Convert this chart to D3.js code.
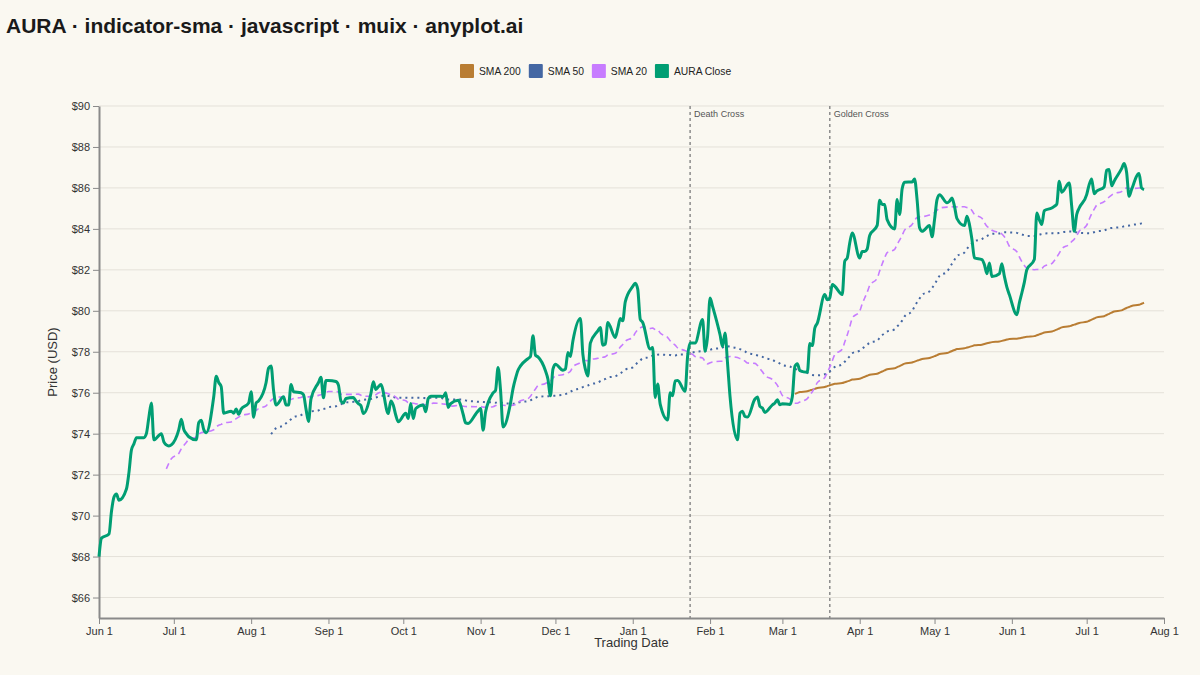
<!DOCTYPE html>
<html>
<head>
<meta charset="utf-8">
<script src="https://cdn.jsdelivr.net/npm/d3@7"></script>
<style>
    html, body { margin: 0; padding: 0; background: #faf8f1; }
    svg { display: block; font-family: "Liberation Sans", Arial, sans-serif; }
</style>
</head>
<body>
<svg id="chart" width="1200" height="675"></svg>
<script>
/**
 * First and last trading day of the series (weekdays only)
 */
const [startDate, endDate] = ['2023-06-01', '2024-07-24'];

/**
 * AURA closing prices, one per trading day, grouped by month
 */
const closeJun23 = [68.0, 68.9, 69.1, 70.2, 70.9, 71.05, 70.75, 71.3, 72.1, 73.2, 73.5, 73.8, 73.8, 74.0, 74.8, 75.5, 73.7, 74.0, 73.6, 73.45, 73.4, 73.45];
const closeJul23 = [74.2, 74.7, 74.2, 74.0, 73.85, 73.7, 74.55, 74.65, 74.2, 74.05, 75.8, 76.8, 76.5, 76.3, 75.0, 75.1, 75.0, 75.2, 74.95, 75.2, 75.5];
const closeAug23 = [76.05, 74.8, 75.5, 75.6, 76.5, 77.2, 77.3, 76.1, 75.4, 75.8, 75.4, 75.4, 76.4, 76.05, 76.0, 75.9, 75.2, 74.6, 75.7, 76.5, 76.75, 75.75, 76.6];
const closeSep23 = [76.6, 76.55, 76.37, 75.6, 75.5, 75.72, 75.77, 75.6, 75.47, 75.37, 74.98, 75.95, 76.53, 76.16, 76.29, 76.4, 74.98, 75.6, 75.39, 74.9, 74.58];
const closeOct23 = [75.0, 74.74, 75.47, 74.74, 75.23, 75.4, 75.07, 75.72, 75.83, 75.83, 75.83, 75.8, 76.0, 75.28, 75.47, 75.63, 75.39, 74.95, 74.53, 74.5, 74.95, 75.11];
const closeNov23 = [75.23, 74.17, 75.07, 75.99, 76.12, 77.23, 76.12, 74.33, 75.5, 76.2, 76.7, 77.1, 77.31, 77.67, 77.77, 78.78, 77.83, 77.75, 77.07, 76.66, 75.85, 77.15];
const closeDec23 = [77.39, 77.1, 77.15, 77.96, 77.77, 78.53, 79.63, 77.88, 77.15, 76.82, 78.42, 79.02, 79.19, 78.32, 78.37, 79.43, 78.7, 79.14, 79.63, 79.51, 80.44];
const closeJan24 = [81.19, 81.35, 81.06, 79.59, 79.43, 78.13, 78.21, 75.77, 76.42, 75.44, 74.67, 76.0, 75.85, 76.58, 76.6, 76.07, 77.78, 78.43, 78.43, 78.43, 79.57, 78.02, 78.75];
const closeFeb24 = [80.63, 80.22, 78.83, 78.26, 78.92, 77.45, 75.82, 73.7, 75.0, 75.09, 74.84, 74.81, 75.69, 75.79, 75.33, 75.25, 75.04, 75.41, 75.5, 75.66, 75.41];
const closeMar24 = [75.46, 75.43, 75.82, 77.29, 77.42, 77.08, 77.0, 78.4, 78.3, 79.16, 79.4, 80.79, 80.54, 80.63, 81.28, 81.2, 80.79, 82.42, 82.58, 83.31, 83.8];
const closeApr24 = [82.58, 82.9, 82.9, 83.02, 83.68, 84.17, 85.4, 85.19, 85.19, 84.45, 84.0, 85.43, 84.7, 85.95, 86.28, 86.29, 86.44, 85.43, 84.05, 83.88, 84.16, 83.61];
const closeMay24 = [84.45, 85.43, 85.67, 85.27, 85.35, 85.51, 85.1, 84.5, 84.16, 84.62, 84.21, 83.48, 82.58, 82.5, 82.25, 81.81, 82.34, 81.67, 81.81, 82.3, 81.68, 81.16, 80.79];
const closeJun24 = [79.81, 80.38, 80.87, 81.39, 82.0, 82.5, 84.78, 84.45, 84.21, 84.89, 85.02, 85.1, 85.2, 86.33, 85.79, 86.24, 85.1, 83.88, 84.7, 85.02];
const closeJul24 = [85.67, 86.16, 86.44, 85.72, 85.84, 86.05, 86.86, 86.9, 86.1, 86.33, 86.94, 87.19, 86.77, 85.59, 85.92, 86.7, 86.0, 85.92];

/**
 * Moving-average windows, drawn back to front
 */
const smaWindows = [200, 50, 20];

/**
 * Dates where SMA 20 crosses SMA 50
 */
const crossDates = ['2024-01-24', '2024-03-20'];
const crossLabels = ['Death Cross', 'Golden Cross'];

/**
 * Axis ticks
 */
const yTicks = [66, 68, 70, 72, 74, 76, 78, 80, 82, 84, 86, 88, 90];
const xTickDates = ['2023-06-01', '2023-07-01', '2023-08-01', '2023-09-01', '2023-10-01', '2023-11-01',
    '2023-12-01', '2024-01-01', '2024-02-01', '2024-03-01', '2024-04-01', '2024-05-01',
    '2024-06-01', '2024-07-01', '2024-08-01'];

const legendLabels = ['SMA 200', 'SMA 50', 'SMA 20', 'AURA Close'];

const Colors = {
    close: '#009e73',
    sma20: '#c77cff',
    sma50: '#4467a3',
    sma200: '#b97d33',
    grid: '#e4e1d9',
    axis: '#8a8a8a',
    text: '#333333'
};

const parseDate = d3.utcParse('%Y-%m-%d');

/**
 * Weekday calendar between start and end date
 */
function tradingDays(start, end) {
    return d3.utcDay
        .range(parseDate(start), d3.utcDay.offset(parseDate(end), 1))
        .filter((d) => d.getUTCDay() !== 0 && d.getUTCDay() !== 6);
}

function movingAverage(values, n) {
    return values.map((v, i) => (i < n - 1 ? null : d3.mean(values.slice(i - n + 1, i + 1))));
}

function drawChart(svg) {
    const margin = { top: 106, right: 36, bottom: 57, left: 99 };
    const width = +svg.attr('width') - margin.left - margin.right;
    const height = +svg.attr('height') - margin.top - margin.bottom;

    const closes = [].concat(closeJun23, closeJul23, closeAug23, closeSep23, closeOct23, closeNov23,
        closeDec23, closeJan24, closeFeb24, closeMar24, closeApr24, closeMay24, closeJun24, closeJul24);
    const dates = tradingDays(startDate, endDate).slice(0, closes.length);
    const rows = dates.map((d, i) => ({ date: d, close: closes[i] }));

    // Title
    svg.append('text')
        .attr('x', 6)
        .attr('y', 33)
        .attr('font-size', 21)
        .attr('font-weight', 'bold')
        .attr('fill', '#1a1a1a')
        .text('AURA · indicator-sma · javascript · muix · anyplot.ai');

    const chart = svg.append('g').attr('transform', `translate(${margin.left}, ${margin.top})`);

    const xScale = d3.scaleUtc()
        .domain([parseDate(xTickDates[0]), parseDate(xTickDates[xTickDates.length - 1])])
        .range([0, width]);
    const yScale = d3.scaleLinear().domain([65, 90]).range([height, 0]);

    // Horizontal grid
    chart.append('g')
        .selectAll('line')
        .data(yTicks)
        .join('line')
        .attr('x1', 0)
        .attr('x2', width)
        .attr('y1', (t) => yScale(t))
        .attr('y2', (t) => yScale(t))
        .attr('stroke', Colors.grid)
        .attr('stroke-width', 1);

    // Axes
    const xAxis = d3.axisBottom(xScale)
        .tickValues(xTickDates.map(parseDate))
        .tickFormat(d3.utcFormat('%b %-d'))
        .tickSizeOuter(0);
    const gx = chart.append('g').attr('transform', `translate(0, ${height})`).call(xAxis);

    const yAxis = d3.axisLeft(yScale)
        .tickValues(yTicks)
        .tickFormat((t) => `$${t}`)
        .tickSizeOuter(0);
    const gy = chart.append('g').call(yAxis);

    [gx, gy].forEach((g) => {
        g.select('.domain').attr('stroke', Colors.axis).attr('stroke-width', 2);
        g.selectAll('.tick line').attr('stroke', Colors.axis);
        g.selectAll('.tick text')
            .attr('fill', Colors.text)
            .attr('font-size', 11)
            .attr('font-family', '"Liberation Sans", Arial, sans-serif');
    });

    chart.append('text')
        .attr('x', width / 2)
        .attr('y', height + 29)
        .attr('text-anchor', 'middle')
        .attr('font-size', 13)
        .attr('fill', Colors.text)
        .text('Trading Date');

    chart.append('text')
        .attr('transform', `translate(${-42}, ${height / 2}) rotate(-90)`)
        .attr('text-anchor', 'middle')
        .attr('font-size', 13)
        .attr('fill', Colors.text)
        .text('Price (USD)');

    // Cross markers
    const crosses = crossDates.map((d, i) => ({ date: parseDate(d), label: crossLabels[i] }));
    chart.append('g')
        .selectAll('line')
        .data(crosses)
        .join('line')
        .attr('x1', (c) => xScale(c.date))
        .attr('x2', (c) => xScale(c.date))
        .attr('y1', 0)
        .attr('y2', height)
        .attr('stroke', '#8c8c8c')
        .attr('stroke-width', 1.5)
        .attr('stroke-dasharray', '3,3');
    chart.append('g')
        .selectAll('text')
        .data(crosses)
        .join('text')
        .attr('x', (c) => xScale(c.date) + 4)
        .attr('y', 11)
        .attr('font-size', 9)
        .attr('fill', '#555555')
        .text((c) => c.label);

    // Lines
    const line = (key) => d3.line()
        .defined((r) => r[key] !== null)
        .x((r) => xScale(r.date))
        .y((r) => yScale(r[key]))
        .curve(d3.curveMonotoneX);

    smaWindows.forEach((n) => {
        const sma = movingAverage(closes, n);
        rows.forEach((r, i) => (r[`sma${n}`] = sma[i]));
    });

    const smaStyles = {
        sma200: { color: Colors.sma200, width: 2, dash: null },
        sma50: { color: Colors.sma50, width: 2, dash: '2,4' },
        sma20: { color: Colors.sma20, width: 1.6, dash: '6,4' }
    };

    smaWindows.forEach((n) => {
        const key = `sma${n}`;
        chart.append('path')
            .datum(rows)
            .attr('fill', 'none')
            .attr('stroke', smaStyles[key].color)
            .attr('stroke-width', smaStyles[key].width)
            .attr('stroke-dasharray', smaStyles[key].dash)
            .attr('d', line(key));
    });

    chart.append('path')
        .datum(rows)
        .attr('fill', 'none')
        .attr('stroke', Colors.close)
        .attr('stroke-width', 3)
        .attr('stroke-linejoin', 'round')
        .attr('d', line('close'));

    // Legend
    const legendColors = [Colors.sma200, Colors.sma50, Colors.sma20, Colors.close];
    const legend = svg.append('g').attr('transform', 'translate(460, 64)');
    let offset = 0;
    legendLabels.forEach((label, i) => {
        const item = legend.append('g').attr('transform', `translate(${offset}, 0)`);
        item.append('rect')
            .attr('width', 14)
            .attr('height', 14)
            .attr('rx', 1)
            .attr('fill', legendColors[i]);
        const text = item.append('text')
            .attr('x', 19)
            .attr('y', 11)
            .attr('font-size', 10.3)
            .attr('fill', '#222222')
            .text(label);
        offset += 19 + text.node().getComputedTextLength() + 8;
    });
}

window.addEventListener('DOMContentLoaded', () => {
    drawChart(d3.select('#chart'));
});
</script>
</body>
</html>
